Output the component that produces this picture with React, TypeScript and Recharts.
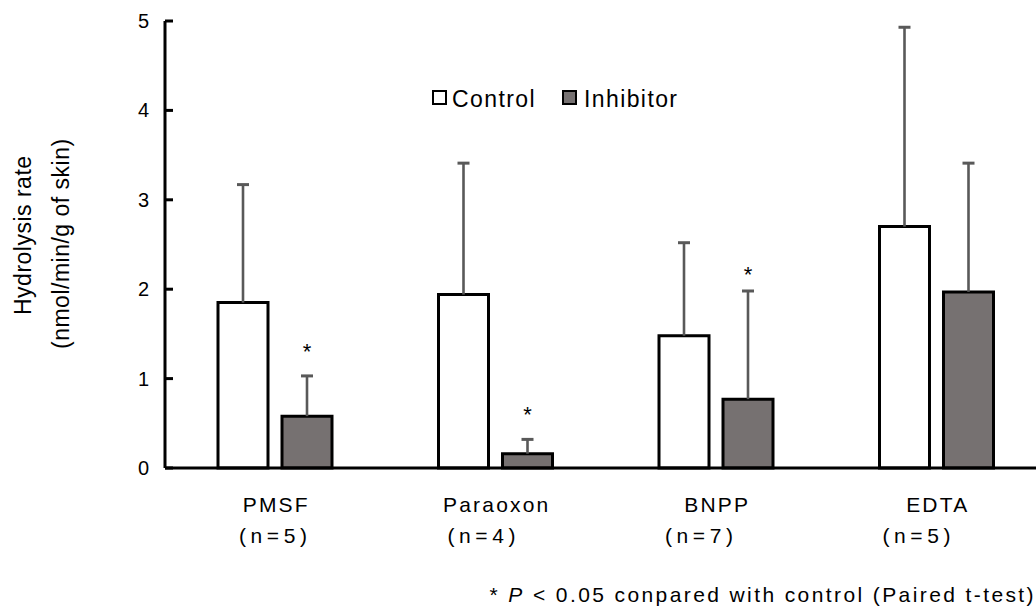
import { BarChart, Bar, XAxis, YAxis, LabelList } from 'recharts';

// values
const categories = ['PMSF', 'Paraoxon', 'BNPP', 'EDTA'];
const sampleSizes = [5, 4, 7, 5];
const controlMeans = [1.85, 1.94, 1.48, 2.70];
const controlErrors = [1.32, 1.47, 1.04, 2.23];
const inhibitorMeans = [0.58, 0.16, 0.77, 1.97];
const inhibitorErrors = [0.45, 0.16, 1.21, 1.44];
// height (in axis units) where the "*" of a significant difference sits
const starLevels = [1.35, 0.65, 2.21, null];
const yTicks = [0, 1, 2, 3, 4, 5];

const data = categories.map((name, i) => ({
  name,
  control: controlMeans[i],
  inhibitor: inhibitorMeans[i],
}));

const FONT = '"Liberation Sans", Arial, sans-serif';
const ERR = '#595959';
const GREY = '#767171';

// the "(n=..)" lines are not quite centred under their category in the original
const nShift = [-2, -14, -17, -20];

function CategoryTick(props: any) {
  const { x, y, payload, index } = props;
  const i = index ?? categories.indexOf(payload.value);
  return (
    <g fontFamily={FONT} fontSize={21} fill="#000">
      <text x={x + 1} y={y + 44} textAnchor="middle" fill="#000" letterSpacing={2.2}>{payload.value}</text>
      <text x={x + nShift[i] + 2} y={y + 75} textAnchor="middle" fill="#000" letterSpacing={4.6}>
        {`(n=${sampleSizes[i]})`}
      </text>
    </g>
  );
}

function ValueTick(props: any) {
  const { x, y, payload } = props;
  return (
    <g>
      <text x={x - 1} y={y + 7} textAnchor="end" fontFamily={FONT} fontSize={20} fill="#000">{payload.value}</text>
      <line x1={x + 15} x2={x + 23} y1={y} y2={y} stroke="#000" strokeWidth={3} />
    </g>
  );
}

// upward-only error bar (and significance star) drawn on top of each bar
const errorLabel = (errors: number[], stars?: (number | null)[]) => (props: any) => {
  const vb = props.viewBox ?? props;
  const { x, y, width, height } = vb;
  const { value, index } = props;
  if (!value) return null;
  const unit = height / value;
  const top = y - errors[index] * unit;
  const cx = x + width / 2;
  const star = stars ? stars[index] : null;
  return (
    <g>
      <line x1={cx} x2={cx} y1={y} y2={top} stroke={ERR} strokeWidth={2.6} />
      <line x1={cx - 6} x2={cx + 6} y1={top} y2={top} stroke={ERR} strokeWidth={3} />
      {star != null && (
        <text x={cx} y={y - (star - value) * unit + 12} textAnchor="middle" fontFamily={FONT} fontSize={22} fill="#000">*</text>
      )}
    </g>
  );
};

function AxisTitle() {
  return (
    <g fontFamily={FONT} fontSize={23} fill="#000" letterSpacing={0.5}>
      <text x={31} y={315} transform="rotate(-90 31 315)">Hydrolysis rate</text>
      <text x={69} y={349} transform="rotate(-90 69 349)">(nmol/min/g of skin)</text>
    </g>
  );
}

export default function App() {
  return (
    <div style={{ position: 'absolute', left: 0, top: 0, width: 1036, height: 608, overflow: 'hidden', background: '#fff', fontFamily: FONT }}>
      <BarChart
        width={1050}
        height={608}
        data={data}
        margin={{ top: 21, right: 3, bottom: 80, left: 0 }}
        barSize={50}
        barGap={14}
      >
        <XAxis
          dataKey="name"
          height={60}
          interval={0}
          axisLine={{ stroke: '#000', strokeWidth: 3 }}
          tickLine={false}
          tickSize={0}
          tickMargin={0}
          tick={<CategoryTick />}
        />
        <YAxis
          width={165}
          domain={[0, 5]}
          ticks={yTicks}
          interval={0}
          axisLine={{ stroke: '#000', strokeWidth: 3 }}
          tickLine={false}
          tickSize={0}
          tickMargin={15}
          tick={<ValueTick />}
          label={{ content: <AxisTitle /> }}
        />
        <Bar dataKey="control" fill="#fff" stroke="#000" strokeWidth={3} isAnimationActive={false}>
          <LabelList dataKey="control" content={errorLabel(controlErrors)} />
        </Bar>
        <Bar dataKey="inhibitor" fill={GREY} stroke="#000" strokeWidth={3} isAnimationActive={false}>
          <LabelList dataKey="inhibitor" content={errorLabel(inhibitorErrors, starLevels)} />
        </Bar>
      </BarChart>

      <svg width={1036} height={608} style={{ position: 'absolute', left: 0, top: 0, pointerEvents: 'none' }}>
        <g fontFamily={FONT} fontSize={23} fill="#000" letterSpacing={1.4}>
          <rect x={433} y={91} width={13} height={13} fill="#fff" stroke="#000" strokeWidth={2} />
          <text x={452} y={107}>Control</text>
          <rect x={563} y={91} width={13} height={13} fill={GREY} stroke="#000" strokeWidth={2} />
          <text x={584} y={107}>Inhibitor</text>
        </g>
        <text x={1036} y={602} textAnchor="end" fontFamily={FONT} fontSize={21} fill="#000" letterSpacing={2.4}>
          * <tspan fontStyle="italic">P</tspan> &lt; 0.05 conpared with control (Paired t-test)
        </text>
      </svg>
    </div>
  );
}
